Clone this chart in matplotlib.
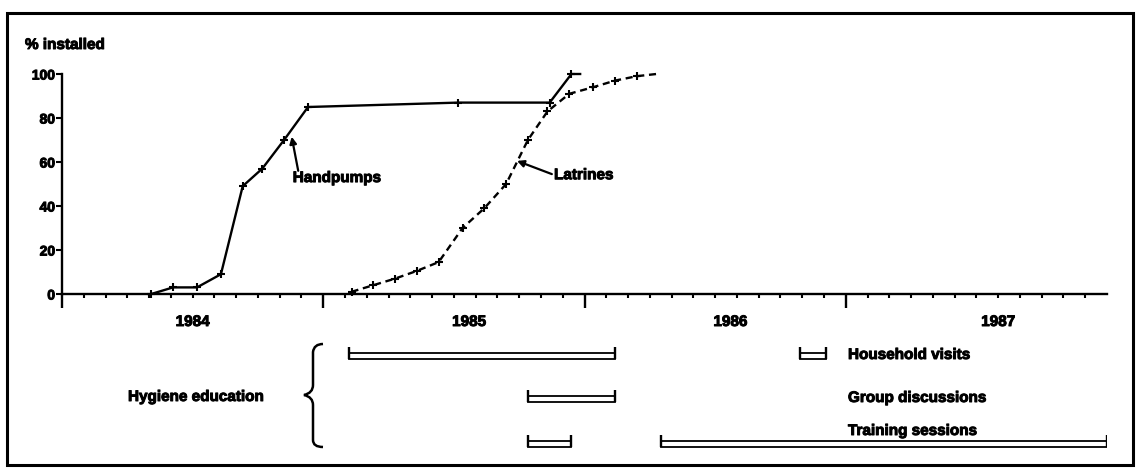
import matplotlib.pyplot as plt
import matplotlib.transforms as mtransforms
import matplotlib.patheffects as pe
from matplotlib.path import Path
from matplotlib.patches import PathPatch, Rectangle

plt.rcParams['font.family'] = ['Liberation Sans', 'DejaVu Sans']
plt.rcParams['font.weight'] = 'bold'

# x values are months since January 1984
hp_month = [4.1, 5.1, 6.2, 7.3, 8.3, 9.2, 10.2, 11.3, 18.2, 22.4, 23.4, 23.8]
hp_pct = [0, 3, 3, 9, 49, 57, 70, 85, 87, 87, 100, 100]
lat_month = [13.3, 14.3, 15.3, 16.3, 17.3, 18.4, 19.4, 20.4, 21.4, 22.3, 23.3, 24.4, 25.4, 26.4, 27.3]
lat_pct = [1, 4, 7, 10.5, 14.5, 30, 39, 50, 70, 83, 91, 94, 97, 99, 100]

years = ['1984', '1985', '1986', '1987']
year_label_pos = [6.0, 18.7, 30.7, 43.0]

activities = ['Household visits', 'Group discussions', 'Training sessions']
periods = [
    [(13.2, 25.4), (33.9, 35.1)],
    [(21.4, 25.4)],
    [(21.4, 23.4), (27.5, 48.0)],
]

W, H = 1138, 470
fig = plt.figure(figsize=(W / 100, H / 100), dpi=100)
# pixel coordinates, y pointing down
px = mtransforms.Affine2D().scale(1 / W, -1 / H).translate(0, 1) + fig.transFigure
heavy = [pe.withStroke(linewidth=0.7, foreground='k')]

L, R, B, T = 62, 1107, 294, 74
ax = fig.add_axes([L / W, 1 - B / H, (R - L) / W, (B - T) / H])
ax.set_xlim(0, 48)
ax.set_ylim(0, 100)

ax.plot(hp_month, hp_pct, color='k', lw=1.7, marker='+', ms=5.5, mew=1.5,
        markevery=slice(0, -1), clip_on=False)
ax.plot(lat_month, lat_pct, color='k', lw=1.7, ls=(0, (3, 2)), marker='+', ms=5.5,
        mew=1.5, markevery=slice(0, -1), clip_on=False)

for s in ['top', 'right']:
    ax.spines[s].set_visible(False)
for s in ['left', 'bottom']:
    ax.spines[s].set_linewidth(1.7)

ax.set_xticks([0, 12, 24, 36])
ax.set_xticks([m for m in range(1, 49) if m % 12], minor=True)
ax.set_xticklabels([])
ax.tick_params(axis='x', which='major', direction='out', length=10, width=1.7)
ax.tick_params(axis='x', which='minor', direction='out', length=3, width=1.5)
ax.set_yticks(range(0, 101, 20))
ax.tick_params(axis='y', direction='out', length=4, width=1.5, labelsize=10, pad=1)
for t in ax.get_yticklabels():
    t.set_path_effects(heavy)

for lab, pos in zip(years, year_label_pos):
    ax.text(pos, 322, lab, transform=mtransforms.blended_transform_factory(ax.transData, px),
            ha='center', va='center', fontsize=11, path_effects=heavy)

arrow = dict(arrowstyle='-|>', color='k', lw=1.6, mutation_scale=10, shrinkA=0, shrinkB=0)
ax.annotate('', xy=(10.55, 71.5), xytext=(10.85, 56), arrowprops=arrow)
ax.text(10.6, 52.7, 'Handpumps', ha='left', va='center', fontsize=11, path_effects=heavy)
ax.annotate('', xy=(20.9, 60.5), xytext=(22.5, 54.5), arrowprops=arrow)
ax.text(22.6, 54, 'Latrines', ha='left', va='center', fontsize=11, path_effects=heavy)

fig.text(25, 45, '% installed', transform=px, ha='left', va='center', fontsize=11,
         path_effects=heavy)

# activity bars underneath
ax2 = fig.add_axes([L / W, 0, (R - L) / W, 1])
ax2.set_xlim(0, 48)
ax2.set_ylim(H, 0)
ax2.axis('off')
row_y = [356, 398.5, 443.5]
for y, spans in zip(row_y, periods):
    for s, e in spans:
        ax2.add_patch(Rectangle((s, y - 3), e - s, 6, fill=False, edgecolor='k', lw=1.3))
        ax2.vlines([s, e], y - 9, y + 3, color='k', lw=1.7)

label_y = [355, 398, 431]
for lab, y in zip(activities, label_y):
    fig.text(848, y, lab, transform=px, ha='left', va='center', fontsize=11,
             path_effects=heavy)
fig.text(128, 397, 'Hygiene education', transform=px, ha='left', va='center', fontsize=11,
         path_effects=heavy)

brace = Path(
    [(323, 344), (314, 344), (313, 352), (313, 385), (313, 393), (304, 395),
     (313, 397), (313, 405), (313, 440), (313, 447), (323, 447)],
    [Path.MOVETO, Path.CURVE3, Path.CURVE3, Path.LINETO, Path.CURVE3, Path.CURVE3,
     Path.CURVE3, Path.CURVE3, Path.LINETO, Path.CURVE3, Path.CURVE3])
fig.patches.append(PathPatch(brace, transform=px, fill=False, lw=1.8, edgecolor='k'))

fig.patches.append(Rectangle((7, 13), 1126, 452, transform=px, fill=False,
                             edgecolor='k', lw=2.2))

fig.savefig('out.png', dpi=100)
